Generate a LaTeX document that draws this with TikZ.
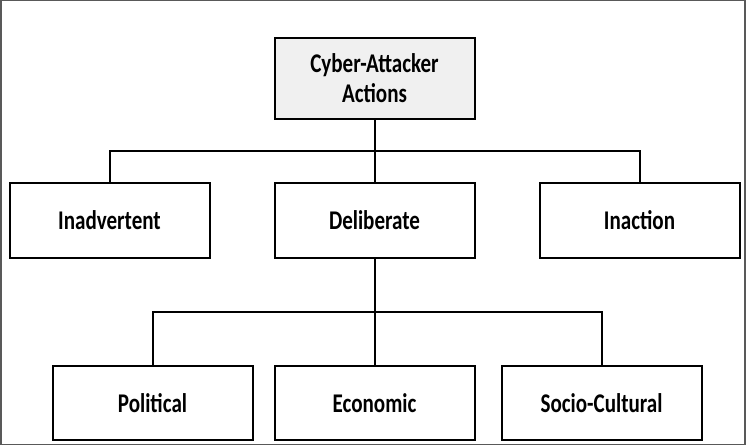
\documentclass[tikz,border=0pt]{standalone}
\usepackage{fontspec}
\setmainfont[FakeStretch=0.78]{Carlito}
\usetikzlibrary{positioning}

\begin{document}
\begin{tikzpicture}[
    x=1pt, y=-1pt,
    node distance = 64pt and 65pt,
    every node/.style = {font=\bfseries\fontsize{27}{30}\selectfont},
    box/.style  = {rectangle, draw, line width=2pt, align=center,
                   minimum width=200pt, minimum height=75pt,
                   inner sep=0pt, outer sep=0pt, fill=white},
    root/.style = {box, fill=gray!12, minimum height=81pt},
    leaf/.style = {box, minimum height=74pt},
    link/.style = {line width=2pt}
  ]

  % frame
  \useasboundingbox (0,0) rectangle (746,446);
  \draw[black!65, line width=1.5pt] (0.75,0.75) rectangle (745,444.5);

  % nodes
  \node[root] (act) at (374.5,78.5) {Cyber-Attacker\\Actions};

  \node[box] (dlb)   [below=64pt of act] {Deliberate};
  \node[box] (inadv) [left=of dlb]       {Inadvertent};
  \node[box] (inact) [right=of dlb]      {Inaction};

  \node[leaf] (econ) [below=108pt of dlb] {Economic};
  \node[leaf] (pol)  [left=22pt of econ]  {Political};
  \node[leaf] (soc)  [right=27pt of econ] {Socio-Cultural};

  % edges
  \path (act.south) -- (dlb.north) coordinate[midway] (bar1);
  \path (dlb.south) -- (econ.north) coordinate[midway] (bar2);

  \draw[link] (act) -- (dlb);
  \draw[link] (inadv.north) -- (inadv.north |- bar1) -- (inact.north |- bar1) -- (inact.north);
  \draw[link] (dlb) -- (econ);
  \draw[link] (pol.north) -- (pol.north |- bar2) -- (soc.north |- bar2) -- (soc.north);

\end{tikzpicture}
\end{document}
